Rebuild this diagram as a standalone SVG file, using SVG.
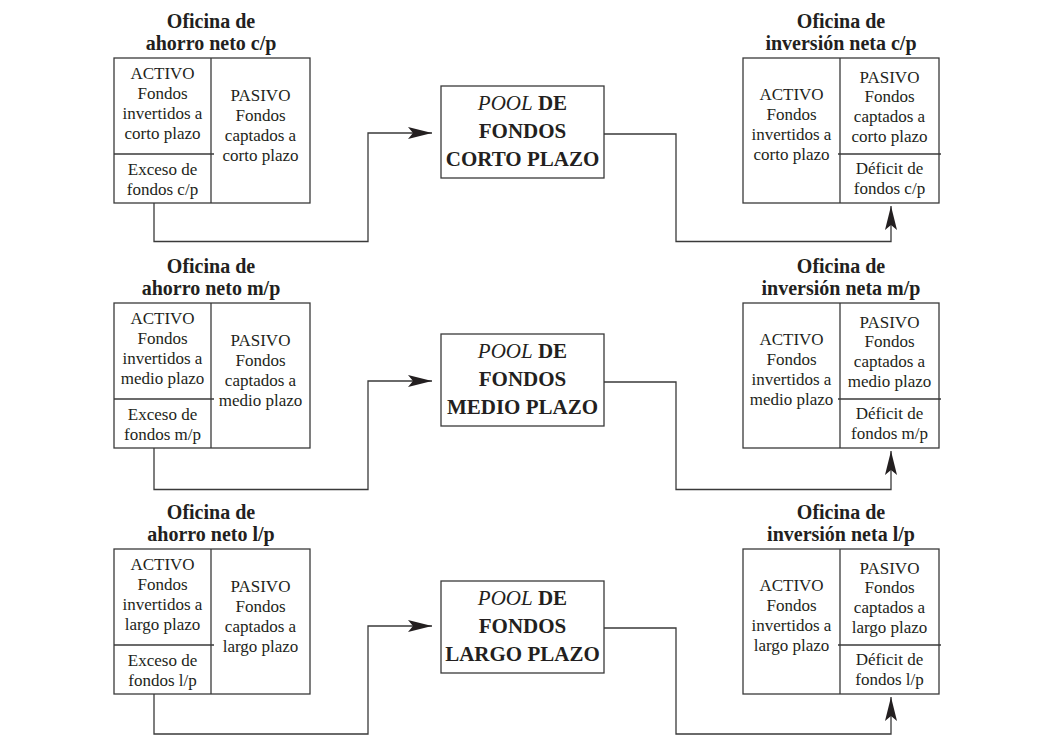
<svg xmlns="http://www.w3.org/2000/svg" width="1043" height="745" viewBox="0 0 1043 745">
<style>
.bx{fill:none;stroke:#3a3a3a;stroke-width:1.3}
.ln{fill:none;stroke:#3a3a3a;stroke-width:1.3}
.t{font-family:"Liberation Serif","Times New Roman",serif;font-size:17px;fill:#231f20;text-anchor:middle}
.h{font-family:"Liberation Serif","Times New Roman",serif;font-size:20px;font-weight:bold;fill:#231f20;text-anchor:middle}
.p{font-family:"Liberation Serif","Times New Roman",serif;font-size:21px;font-weight:bold;fill:#231f20;text-anchor:middle}
.i{font-style:italic;font-weight:normal}
</style>
<defs>
<marker id="ah" markerUnits="userSpaceOnUse" markerWidth="26" markerHeight="14" refX="24" refY="7" orient="auto">
<path d="M0,1 L24,7 L0,13 L5,7 Z" fill="#231f20"/>
</marker>
</defs>
<rect width="1043" height="745" fill="#ffffff"/>

<!-- Row 1 -->
<g id="ahorro-cp">
<text class="h" x="211" y="28">Oficina de</text>
<text class="h" x="211" y="49.5">ahorro neto c/p</text>
<rect class="bx" x="114" y="58" width="196" height="145"/>
<line class="bx" x1="211" y1="58" x2="211" y2="203"/>
<line class="bx" x1="114" y1="154" x2="214" y2="154"/>
<text class="t" x="162.5" y="79">ACTIVO</text>
<text class="t" x="162.5" y="99">Fondos</text>
<text class="t" x="162.5" y="119">invertidos a</text>
<text class="t" x="162.5" y="139">corto plazo</text>
<text class="t" x="162.5" y="175">Exceso de</text>
<text class="t" x="162.5" y="195">fondos c/p</text>
<text class="t" x="260.5" y="101">PASIVO</text>
<text class="t" x="260.5" y="121">Fondos</text>
<text class="t" x="260.5" y="141">captados a</text>
<text class="t" x="260.5" y="161">corto plazo</text>
</g>
<g id="pool-cp">
<rect class="bx" x="441" y="86" width="163" height="92"/>
<text class="p" x="522.5" y="110"><tspan class="i">POOL</tspan> DE</text>
<text class="p" x="522.5" y="138">FONDOS</text>
<text class="p" x="522.5" y="166">CORTO PLAZO</text>
</g>
<g id="inversion-cp">
<text class="h" x="841" y="28">Oficina de</text>
<text class="h" x="841" y="49.5">inversión neta c/p</text>
<rect class="bx" x="743" y="58" width="196" height="145"/>
<line class="bx" x1="840" y1="58" x2="840" y2="203"/>
<line class="bx" x1="838" y1="154" x2="941" y2="154"/>
<text class="t" x="791.5" y="100">ACTIVO</text>
<text class="t" x="791.5" y="120">Fondos</text>
<text class="t" x="791.5" y="140">invertidos a</text>
<text class="t" x="791.5" y="160">corto plazo</text>
<text class="t" x="889.5" y="83">PASIVO</text>
<text class="t" x="889.5" y="102">Fondos</text>
<text class="t" x="889.5" y="122">captados a</text>
<text class="t" x="889.5" y="142">corto plazo</text>
<text class="t" x="889.5" y="174">Déficit de</text>
<text class="t" x="889.5" y="194">fondos c/p</text>
</g>

<!-- Row 2 -->
<g id="ahorro-mp" transform="translate(0,245)">
<text class="h" x="211" y="28">Oficina de</text>
<text class="h" x="211" y="49.5">ahorro neto m/p</text>
<rect class="bx" x="114" y="58" width="196" height="145"/>
<line class="bx" x1="211" y1="58" x2="211" y2="203"/>
<line class="bx" x1="114" y1="154" x2="214" y2="154"/>
<text class="t" x="162.5" y="79">ACTIVO</text>
<text class="t" x="162.5" y="99">Fondos</text>
<text class="t" x="162.5" y="119">invertidos a</text>
<text class="t" x="162.5" y="139">medio plazo</text>
<text class="t" x="162.5" y="175">Exceso de</text>
<text class="t" x="162.5" y="195">fondos m/p</text>
<text class="t" x="260.5" y="101">PASIVO</text>
<text class="t" x="260.5" y="121">Fondos</text>
<text class="t" x="260.5" y="141">captados a</text>
<text class="t" x="260.5" y="161">medio plazo</text>
</g>
<g id="pool-mp" transform="translate(0,248)">
<rect class="bx" x="441" y="86" width="163" height="92"/>
<text class="p" x="522.5" y="110"><tspan class="i">POOL</tspan> DE</text>
<text class="p" x="522.5" y="138">FONDOS</text>
<text class="p" x="522.5" y="166">MEDIO PLAZO</text>
</g>
<g id="inversion-mp" transform="translate(0,245)">
<text class="h" x="841" y="28">Oficina de</text>
<text class="h" x="841" y="49.5">inversión neta m/p</text>
<rect class="bx" x="743" y="58" width="196" height="145"/>
<line class="bx" x1="840" y1="58" x2="840" y2="203"/>
<line class="bx" x1="838" y1="154" x2="941" y2="154"/>
<text class="t" x="791.5" y="100">ACTIVO</text>
<text class="t" x="791.5" y="120">Fondos</text>
<text class="t" x="791.5" y="140">invertidos a</text>
<text class="t" x="791.5" y="160">medio plazo</text>
<text class="t" x="889.5" y="83">PASIVO</text>
<text class="t" x="889.5" y="102">Fondos</text>
<text class="t" x="889.5" y="122">captados a</text>
<text class="t" x="889.5" y="142">medio plazo</text>
<text class="t" x="889.5" y="174">Déficit de</text>
<text class="t" x="889.5" y="194">fondos m/p</text>
</g>

<!-- Row 3 -->
<g id="ahorro-lp" transform="translate(0,491)">
<text class="h" x="211" y="28">Oficina de</text>
<text class="h" x="211" y="49.5">ahorro neto l/p</text>
<rect class="bx" x="114" y="58" width="196" height="145"/>
<line class="bx" x1="211" y1="58" x2="211" y2="203"/>
<line class="bx" x1="114" y1="154" x2="214" y2="154"/>
<text class="t" x="162.5" y="79">ACTIVO</text>
<text class="t" x="162.5" y="99">Fondos</text>
<text class="t" x="162.5" y="119">invertidos a</text>
<text class="t" x="162.5" y="139">largo plazo</text>
<text class="t" x="162.5" y="175">Exceso de</text>
<text class="t" x="162.5" y="195">fondos l/p</text>
<text class="t" x="260.5" y="101">PASIVO</text>
<text class="t" x="260.5" y="121">Fondos</text>
<text class="t" x="260.5" y="141">captados a</text>
<text class="t" x="260.5" y="161">largo plazo</text>
</g>
<g id="pool-lp" transform="translate(0,495)">
<rect class="bx" x="441" y="86" width="163" height="92"/>
<text class="p" x="522.5" y="110"><tspan class="i">POOL</tspan> DE</text>
<text class="p" x="522.5" y="138">FONDOS</text>
<text class="p" x="522.5" y="166">LARGO PLAZO</text>
</g>
<g id="inversion-lp" transform="translate(0,491)">
<text class="h" x="841" y="28">Oficina de</text>
<text class="h" x="841" y="49.5">inversión neta l/p</text>
<rect class="bx" x="743" y="58" width="196" height="145"/>
<line class="bx" x1="840" y1="58" x2="840" y2="203"/>
<line class="bx" x1="838" y1="154" x2="941" y2="154"/>
<text class="t" x="791.5" y="100">ACTIVO</text>
<text class="t" x="791.5" y="120">Fondos</text>
<text class="t" x="791.5" y="140">invertidos a</text>
<text class="t" x="791.5" y="160">largo plazo</text>
<text class="t" x="889.5" y="83">PASIVO</text>
<text class="t" x="889.5" y="102">Fondos</text>
<text class="t" x="889.5" y="122">captados a</text>
<text class="t" x="889.5" y="142">largo plazo</text>
<text class="t" x="889.5" y="174">Déficit de</text>
<text class="t" x="889.5" y="194">fondos l/p</text>
</g>

<g id="connectors">
<path class="ln" d="M154,203 V241.5 H368 V133 H432" marker-end="url(#ah)"/>
<path class="ln" d="M604,134 H676 V241.5 H891 V206" marker-end="url(#ah)"/>
<path class="ln" d="M154,448 V489.5 H368 V381 H432" marker-end="url(#ah)"/>
<path class="ln" d="M604,382 H676 V489.5 H891 V451" marker-end="url(#ah)"/>
<path class="ln" d="M154,694 V734 H368 V626 H432" marker-end="url(#ah)"/>
<path class="ln" d="M604,628 H676 V734 H891 V697" marker-end="url(#ah)"/>
</g>
</svg>
